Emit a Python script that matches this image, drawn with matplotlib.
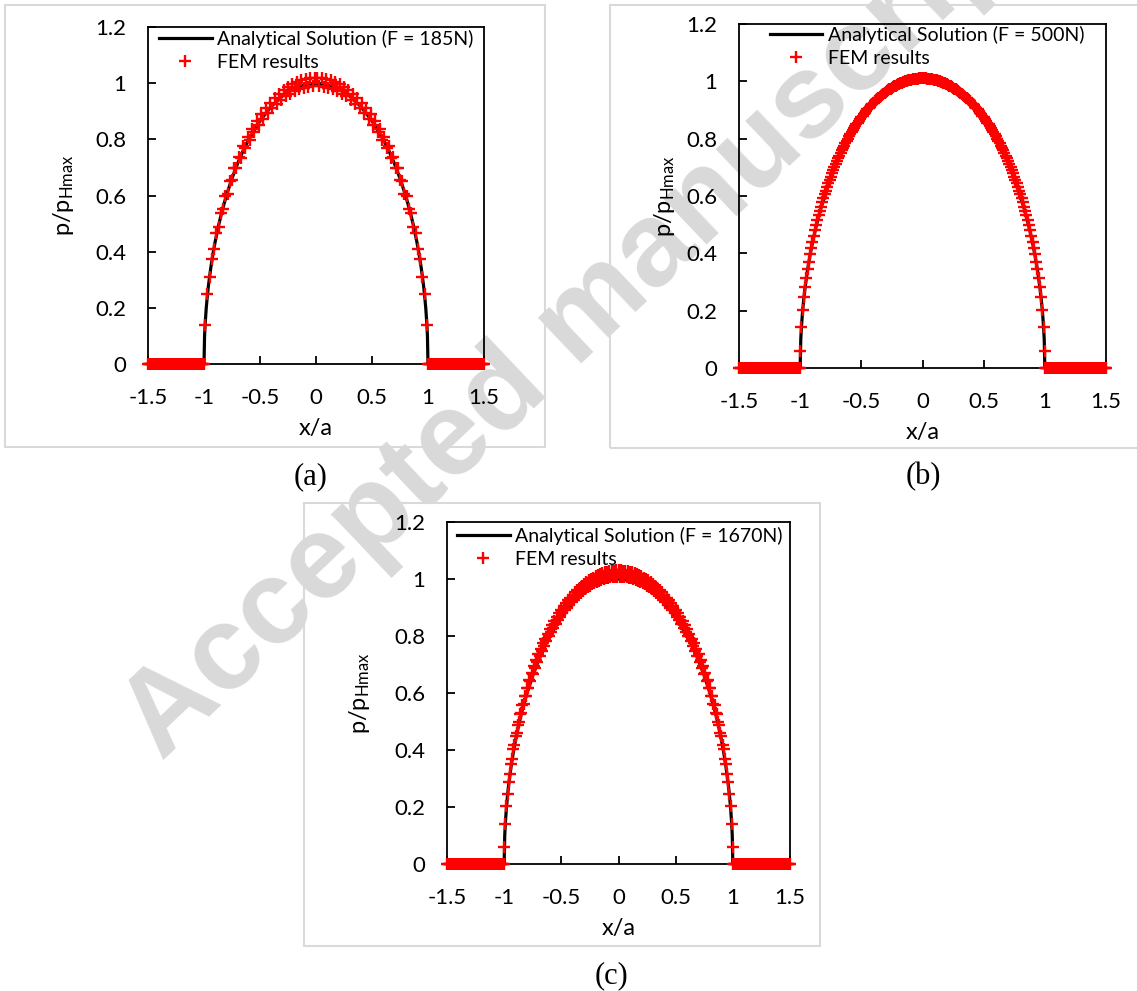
import matplotlib
matplotlib.use('Agg')
import matplotlib.pyplot as plt
from matplotlib.patches import Rectangle

plt.rcParams['font.family'] = ['Lato', 'DejaVu Sans']
plt.rcParams['mathtext.default'] = 'regular'

# ---- data ----
forces = ['185N', '500N', '1670N']
panel_tags = ['(a)', '(b)', '(c)']

x_ticks = [-1.5, -1.0, -0.5, 0.0, 0.5, 1.0, 1.5]
x_tick_labels = ['-1.5', '-1', '-0.5', '0', '0.5', '1', '1.5']
y_ticks = [0.0, 0.2, 0.4, 0.6, 0.8, 1.0, 1.2]
y_tick_labels = ['0', '0.2', '0.4', '0.6', '0.8', '1', '1.2']

# analytical (Hertz) curve, same for all three loads
ana_x = [-1.5, -1.0, -0.995, -0.99, -0.98, -0.97, -0.96, -0.94, -0.92, -0.9,
         -0.87, -0.84, -0.8, -0.75, -0.7, -0.65, -0.6, -0.5, -0.4, -0.3,
         -0.2, -0.1, 0.0, 0.1, 0.2, 0.3, 0.4, 0.5, 0.6, 0.65,
         0.7, 0.75, 0.8, 0.84, 0.87, 0.9, 0.92, 0.94, 0.96, 0.97,
         0.98, 0.99, 0.995, 1.0, 1.5]
ana_y = [0.0, 0.0, 0.100, 0.141, 0.199, 0.243, 0.280, 0.341, 0.392, 0.436,
         0.493, 0.543, 0.600, 0.661, 0.714, 0.760, 0.800, 0.866, 0.917, 0.954,
         0.980, 0.995, 1.000, 0.995, 0.980, 0.954, 0.917, 0.866, 0.800, 0.760,
         0.714, 0.661, 0.600, 0.543, 0.493, 0.436, 0.392, 0.341, 0.280, 0.243,
         0.199, 0.141, 0.100, 0.0, 0.0]

# FEM nodes outside the contact (zero pressure), same in all panels
fem_out_x = [-1.5, -1.49, -1.48, -1.47, -1.46, -1.45, -1.44, -1.43, -1.42, -1.41,
             -1.4, -1.39, -1.38, -1.37, -1.36, -1.35, -1.34, -1.33, -1.32, -1.31,
             -1.3, -1.29, -1.28, -1.27, -1.26, -1.25, -1.24, -1.23, -1.22, -1.21,
             -1.2, -1.19, -1.18, -1.17, -1.16, -1.15, -1.14, -1.13, -1.12, -1.11,
             -1.1, -1.09, -1.08, -1.07, -1.06, -1.05, -1.04, -1.03, -1.02, -1.01,
             -1.0,
             1.0, 1.01, 1.02, 1.03, 1.04, 1.05, 1.06, 1.07, 1.08, 1.09,
             1.1, 1.11, 1.12, 1.13, 1.14, 1.15, 1.16, 1.17, 1.18, 1.19,
             1.2, 1.21, 1.22, 1.23, 1.24, 1.25, 1.26, 1.27, 1.28, 1.29,
             1.3, 1.31, 1.32, 1.33, 1.34, 1.35, 1.36, 1.37, 1.38, 1.39,
             1.4, 1.41, 1.42, 1.43, 1.44, 1.45, 1.46, 1.47, 1.48, 1.49,
             1.5]
fem_out_y = [0, 0, 0, 0, 0, 0, 0, 0, 0, 0,
             0, 0, 0, 0, 0, 0, 0, 0, 0, 0,
             0, 0, 0, 0, 0, 0, 0, 0, 0, 0,
             0, 0, 0, 0, 0, 0, 0, 0, 0, 0,
             0, 0, 0, 0, 0, 0, 0, 0, 0, 0,
             0,
             0, 0, 0, 0, 0, 0, 0, 0, 0, 0,
             0, 0, 0, 0, 0, 0, 0, 0, 0, 0,
             0, 0, 0, 0, 0, 0, 0, 0, 0, 0,
             0, 0, 0, 0, 0, 0, 0, 0, 0, 0,
             0, 0, 0, 0, 0, 0, 0, 0, 0, 0,
             0]

# (a) F = 185N, coarser mesh
fem_a_x = [-0.99, -0.97, -0.95, -0.93, -0.91, -0.89, -0.87, -0.85, -0.83, -0.81,
           -0.79, -0.77, -0.75, -0.73, -0.71, -0.69, -0.67, -0.65, -0.63, -0.61,
           -0.59, -0.57, -0.55, -0.53, -0.51, -0.49, -0.47, -0.45, -0.43, -0.41,
           -0.39, -0.37, -0.35, -0.33, -0.31, -0.29, -0.27, -0.25, -0.23, -0.21,
           -0.19, -0.17, -0.15, -0.13, -0.11, -0.09, -0.07, -0.05, -0.03, -0.01,
           0.01, 0.03, 0.05, 0.07, 0.09, 0.11, 0.13, 0.15, 0.17, 0.19,
           0.21, 0.23, 0.25, 0.27, 0.29, 0.31, 0.33, 0.35, 0.37, 0.39,
           0.41, 0.43, 0.45, 0.47, 0.49, 0.51, 0.53, 0.55, 0.57, 0.59,
           0.61, 0.63, 0.65, 0.67, 0.69, 0.71, 0.73, 0.75, 0.77, 0.79,
           0.81, 0.83, 0.85, 0.87, 0.89, 0.91, 0.93, 0.95, 0.97, 0.99]
fem_a_y = [0.140, 0.248, 0.309, 0.375, 0.410, 0.465, 0.488, 0.537, 0.552, 0.598,
           0.607, 0.651, 0.655, 0.697, 0.697, 0.738, 0.735, 0.775, 0.769, 0.808,
           0.799, 0.838, 0.827, 0.865, 0.852, 0.889, 0.874, 0.911, 0.894, 0.930,
           0.912, 0.948, 0.927, 0.963, 0.941, 0.976, 0.953, 0.988, 0.963, 0.997,
           0.972, 1.005, 0.979, 1.011, 0.984, 1.016, 0.988, 1.019, 0.990, 1.020,
           1.020, 0.990, 1.019, 0.988, 1.016, 0.984, 1.011, 0.979, 1.005, 0.972,
           0.997, 0.963, 0.988, 0.953, 0.976, 0.941, 0.963, 0.927, 0.948, 0.912,
           0.930, 0.894, 0.911, 0.874, 0.889, 0.852, 0.865, 0.827, 0.838, 0.799,
           0.808, 0.769, 0.775, 0.735, 0.738, 0.697, 0.697, 0.655, 0.651, 0.607,
           0.598, 0.552, 0.537, 0.488, 0.465, 0.410, 0.375, 0.309, 0.248, 0.140]

# (b) and (c) finer mesh
fem_bc_x = [-0.998,
            -0.99, -0.98, -0.97, -0.96, -0.95, -0.94, -0.93, -0.92, -0.91, -0.9,
            -0.89, -0.88, -0.87, -0.86, -0.85, -0.84, -0.83, -0.82, -0.81, -0.8,
            -0.79, -0.78, -0.77, -0.76, -0.75, -0.74, -0.73, -0.72, -0.71, -0.7,
            -0.69, -0.68, -0.67, -0.66, -0.65, -0.64, -0.63, -0.62, -0.61, -0.6,
            -0.59, -0.58, -0.57, -0.56, -0.55, -0.54, -0.53, -0.52, -0.51, -0.5,
            -0.49, -0.48, -0.47, -0.46, -0.45, -0.44, -0.43, -0.42, -0.41, -0.4,
            -0.39, -0.38, -0.37, -0.36, -0.35, -0.34, -0.33, -0.32, -0.31, -0.3,
            -0.29, -0.28, -0.27, -0.26, -0.25, -0.24, -0.23, -0.22, -0.21, -0.2,
            -0.19, -0.18, -0.17, -0.16, -0.15, -0.14, -0.13, -0.12, -0.11, -0.1,
            -0.09, -0.08, -0.07, -0.06, -0.05, -0.04, -0.03, -0.02, -0.01,
            0.0, 0.01, 0.02, 0.03, 0.04, 0.05, 0.06, 0.07, 0.08, 0.09,
            0.1, 0.11, 0.12, 0.13, 0.14, 0.15, 0.16, 0.17, 0.18, 0.19,
            0.2, 0.21, 0.22, 0.23, 0.24, 0.25, 0.26, 0.27, 0.28, 0.29,
            0.3, 0.31, 0.32, 0.33, 0.34, 0.35, 0.36, 0.37, 0.38, 0.39,
            0.4, 0.41, 0.42, 0.43, 0.44, 0.45, 0.46, 0.47, 0.48, 0.49,
            0.5, 0.51, 0.52, 0.53, 0.54, 0.55, 0.56, 0.57, 0.58, 0.59,
            0.6, 0.61, 0.62, 0.63, 0.64, 0.65, 0.66, 0.67, 0.68, 0.69,
            0.7, 0.71, 0.72, 0.73, 0.74, 0.75, 0.76, 0.77, 0.78, 0.79,
            0.8, 0.81, 0.82, 0.83, 0.84, 0.85, 0.86, 0.87, 0.88, 0.89,
            0.9, 0.91, 0.92, 0.93, 0.94, 0.95, 0.96, 0.97, 0.98, 0.99,
            0.998]
fem_b_y = [0.060,
           0.142, 0.201, 0.246, 0.283, 0.315, 0.345, 0.371, 0.396, 0.419, 0.440,
           0.461, 0.480, 0.498, 0.515, 0.532, 0.548, 0.563, 0.578, 0.592, 0.606,
           0.619, 0.632, 0.644, 0.656, 0.668, 0.679, 0.690, 0.701, 0.711, 0.721,
           0.731, 0.741, 0.750, 0.759, 0.768, 0.776, 0.784, 0.792, 0.800, 0.808,
           0.815, 0.823, 0.830, 0.837, 0.844, 0.850, 0.856, 0.863, 0.869, 0.875,
           0.880, 0.886, 0.891, 0.897, 0.902, 0.907, 0.912, 0.917, 0.921, 0.926,
           0.930, 0.934, 0.938, 0.942, 0.946, 0.950, 0.953, 0.957, 0.960, 0.963,
           0.967, 0.970, 0.972, 0.975, 0.978, 0.980, 0.983, 0.985, 0.987, 0.990,
           0.992, 0.994, 0.995, 0.997, 0.999, 1.000, 1.001, 1.003, 1.004, 1.005,
           1.006, 1.007, 1.008, 1.008, 1.009, 1.009, 1.010, 1.010, 1.010,
           1.010, 1.010, 1.010, 1.010, 1.009, 1.009, 1.008, 1.008, 1.007, 1.006,
           1.005, 1.004, 1.003, 1.001, 1.000, 0.999, 0.997, 0.995, 0.994, 0.992,
           0.990, 0.987, 0.985, 0.983, 0.980, 0.978, 0.975, 0.972, 0.970, 0.967,
           0.963, 0.960, 0.957, 0.953, 0.950, 0.946, 0.942, 0.938, 0.934, 0.930,
           0.926, 0.921, 0.917, 0.912, 0.907, 0.902, 0.897, 0.891, 0.886, 0.880,
           0.875, 0.869, 0.863, 0.856, 0.850, 0.844, 0.837, 0.830, 0.823, 0.815,
           0.808, 0.800, 0.792, 0.784, 0.776, 0.768, 0.759, 0.750, 0.741, 0.731,
           0.721, 0.711, 0.701, 0.690, 0.679, 0.668, 0.656, 0.644, 0.632, 0.619,
           0.606, 0.592, 0.578, 0.563, 0.548, 0.532, 0.515, 0.498, 0.480, 0.461,
           0.440, 0.419, 0.396, 0.371, 0.345, 0.315, 0.283, 0.246, 0.201, 0.142,
           0.060]
# (c) nodes scatter between two levels, giving a thicker band
fem_c_y = [0.060,
           0.142, 0.205, 0.245, 0.288, 0.315, 0.351, 0.370, 0.404, 0.418, 0.449,
           0.460, 0.489, 0.497, 0.526, 0.531, 0.559, 0.562, 0.590, 0.591, 0.618,
           0.618, 0.645, 0.643, 0.669, 0.667, 0.693, 0.689, 0.715, 0.710, 0.736,
           0.730, 0.755, 0.748, 0.774, 0.766, 0.791, 0.783, 0.808, 0.799, 0.824,
           0.814, 0.839, 0.828, 0.853, 0.842, 0.867, 0.855, 0.880, 0.867, 0.892,
           0.879, 0.904, 0.890, 0.915, 0.900, 0.925, 0.910, 0.935, 0.919, 0.944,
           0.928, 0.953, 0.936, 0.961, 0.944, 0.969, 0.952, 0.976, 0.958, 0.983,
           0.965, 0.989, 0.971, 0.995, 0.976, 1.000, 0.981, 1.005, 0.986, 1.009,
           0.990, 1.013, 0.993, 1.017, 0.997, 1.020, 0.999, 1.023, 1.002, 1.025,
           1.004, 1.027, 1.006, 1.028, 1.007, 1.029, 1.008, 1.030, 1.008,
           1.030, 1.008, 1.030, 1.008, 1.029, 1.007, 1.028, 1.006, 1.027, 1.004,
           1.025, 1.002, 1.023, 0.999, 1.020, 0.997, 1.017, 0.993, 1.013, 0.990,
           1.009, 0.986, 1.005, 0.981, 1.000, 0.976, 0.995, 0.971, 0.989, 0.965,
           0.983, 0.958, 0.976, 0.952, 0.969, 0.944, 0.961, 0.936, 0.953, 0.928,
           0.944, 0.919, 0.935, 0.910, 0.925, 0.900, 0.915, 0.890, 0.904, 0.879,
           0.892, 0.867, 0.880, 0.855, 0.867, 0.842, 0.853, 0.828, 0.839, 0.814,
           0.824, 0.799, 0.808, 0.783, 0.791, 0.766, 0.774, 0.748, 0.755, 0.730,
           0.736, 0.710, 0.715, 0.689, 0.693, 0.667, 0.669, 0.643, 0.645, 0.618,
           0.618, 0.591, 0.590, 0.562, 0.559, 0.531, 0.526, 0.497, 0.489, 0.460,
           0.449, 0.418, 0.404, 0.370, 0.351, 0.315, 0.288, 0.245, 0.205, 0.142,
           0.060]

fem_x_sets = [fem_a_x, fem_bc_x, fem_bc_x]
fem_y_sets = [fem_a_y, fem_b_y, fem_c_y]

# ---- layout (pixels in the 1137x991 picture) ----
W, H = 1137, 991
axes_px = [(148, 27, 484, 364), (739, 24, 1106, 368), (447, 522, 790, 864)]
box_px = [(5, 5, 545, 447), (610, 5, 1145, 448), (304, 503, 820, 946)]
tag_px = [(311, 477), (923, 477), (611, 976)]
legend_px = [(11, 2.5), (31, 1.5), (10, 4.5)]
ylabel_off = [84, 74, 87]


def fx(px):
    return px / W


def fy(py):
    return 1 - py / H


fig = plt.figure(figsize=(W / 100, H / 100), dpi=100)
fig.patch.set_facecolor('white')

# watermark behind everything, anchored at the foot of the "A"
fig.text(fx(162), fy(762), 'Accepted manuscript', fontsize=86, fontweight='bold',
         family='Liberation Sans', color='#d9d9d9', rotation=43.5,
         ha='left', va='baseline', rotation_mode='anchor', zorder=-5)

mk = dict(ls='none', marker='+', ms=9, mew=1.7, color='#ff0000', clip_on=False, zorder=3)

for i in range(3):
    x0, y0, x1, y1 = box_px[i]
    fig.add_artist(Rectangle((fx(x0), fy(y1)), (x1 - x0) / W, (y1 - y0) / H,
                             transform=fig.transFigure, fill=False,
                             edgecolor='#d9d9d9', lw=1.5, zorder=-4))

    ax0, ay0, ax1, ay1 = axes_px[i]
    aw, ah = ax1 - ax0, ay1 - ay0
    ax = fig.add_axes([fx(ax0), fy(ay1), aw / W, ah / H])
    ax.set_facecolor('none')

    ax.plot(ana_x, ana_y, color='black', lw=2.3,
            label='Analytical Solution (F = %s)' % forces[i], zorder=2)
    ax.plot(fem_x_sets[i], fem_y_sets[i], label='FEM results', **mk)
    ax.plot(fem_out_x, fem_out_y, **mk)

    ax.set_xlim(-1.5, 1.5)
    ax.set_ylim(0, 1.2)
    ax.set_xticks(x_ticks)
    ax.set_xticklabels(x_tick_labels)
    ax.set_yticks(y_ticks)
    ax.set_yticklabels(y_tick_labels)
    ax.tick_params(direction='in', length=6, width=1.3, labelsize=16, colors='black')
    ax.tick_params(axis='x', pad=17)
    ax.tick_params(axis='y', pad=15.5)
    for s in ax.spines.values():
        s.set_linewidth(1.3)
        s.set_color('black')

    ax.text(0.5, -65 / ah, 'x/a', transform=ax.transAxes, ha='center', va='center',
            fontsize=17)
    ax.text(-ylabel_off[i] / aw, 0.5, r'p/p$_{Hmax}$', transform=ax.transAxes,
            rotation=90, ha='center', va='center', fontsize=17)

    lx, ly = legend_px[i]
    ax.legend(loc='upper left', bbox_to_anchor=(lx / aw, 1 - ly / ah),
              borderaxespad=0, borderpad=0, frameon=False, handlelength=2.7,
              handletextpad=0.3, labelspacing=0.33, fontsize=14, numpoints=1)

    tx, ty = tag_px[i]
    fig.text(fx(tx), fy(ty), panel_tags[i], family='Liberation Serif', fontsize=22,
             ha='center', va='center')

fig.savefig('out.png', dpi=100, facecolor='white')
